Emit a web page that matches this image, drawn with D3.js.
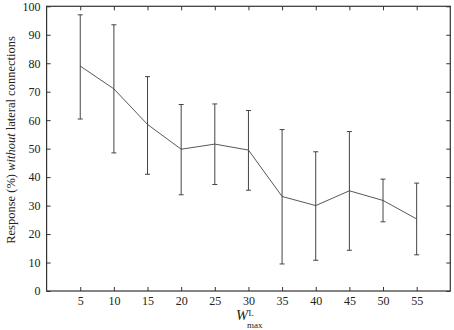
<!DOCTYPE html>
<html>
<head>
<meta charset="utf-8">
<script src="https://cdn.jsdelivr.net/npm/d3@7"></script>
<style>
  body { margin: 0; background: #fff; }
  svg text { font-family: "Liberation Serif", "DejaVu Serif", serif; fill: #222; }
</style>
</head>
<body>
<svg id="chart" width="454" height="330"></svg>
<script>
// values
let wmax = [5, 10, 15, 20, 25, 30, 35, 40, 45, 50, 55]
let response = [79, 71, 58.5, 49.8, 51.6, 49.5, 33.2, 30, 35.2, 31.8, 25.3]
let upper = [97, 93.5, 75.3, 65.5, 65.7, 63.4, 56.7, 48.9, 56, 39.3, 37.9]
let lower = [60.4, 48.5, 41, 33.8, 37.4, 35.4, 9.5, 10.8, 14.3, 24.3, 12.7]
let xTicks = [5, 10, 15, 20, 25, 30, 35, 40, 45, 50, 55]
let yTicks = [0, 10, 20, 30, 40, 50, 60, 70, 80, 90, 100]

let mLeft = 46.6, mRight = 450.3, mTop = 6.3, mBottom = 291

let svg = d3.select("#chart")

let x = d3.scaleLinear().domain([0, 60]).range([mLeft, mRight])
let y = d3.scaleLinear().domain([0, 100]).range([mBottom, mTop])

let stroke = "#333"

// frame
svg.append("rect")
  .attr("x", mLeft).attr("y", mTop)
  .attr("width", mRight - mLeft).attr("height", mBottom - mTop)
  .attr("fill", "none").attr("stroke", stroke).attr("stroke-width", 1.2)

// axes with inward ticks
let ax = svg.append("g").attr("transform", "translate(0," + mBottom + ")")
  .call(d3.axisBottom(x).tickValues(xTicks).tickSizeInner(-4).tickSizeOuter(0).tickPadding(5))
let ay = svg.append("g").attr("transform", "translate(" + mLeft + ",0)")
  .call(d3.axisLeft(y).tickValues(yTicks).tickSizeInner(-4).tickSizeOuter(0).tickPadding(6))
let at = svg.append("g").attr("transform", "translate(0," + mTop + ")")
  .call(d3.axisTop(x).tickValues(xTicks).tickSizeInner(-4).tickSizeOuter(0).tickFormat(""))
let ar = svg.append("g").attr("transform", "translate(" + mRight + ",0)")
  .call(d3.axisRight(y).tickValues(yTicks).tickSizeInner(-4).tickSizeOuter(0).tickFormat(""))

;[ax, ay, at, ar].forEach(function(g) {
  g.select(".domain").remove()
  g.attr("font-family", null)
  g.selectAll("line").attr("stroke", stroke)
  g.selectAll("text").attr("font-size", 12).attr("fill", "#222")
})

// error bars
let bars = svg.append("g")
wmax.forEach(function(d, i) {
  bars.append("line")
    .attr("x1", x(d)).attr("x2", x(d))
    .attr("y1", y(lower[i])).attr("y2", y(upper[i]))
    .attr("stroke", "#444").attr("stroke-width", 1)
  ;[lower[i], upper[i]].forEach(function(v) {
    bars.append("line")
      .attr("x1", x(d) - 2.5).attr("x2", x(d) + 2.5)
      .attr("y1", y(v)).attr("y2", y(v))
      .attr("stroke", "#444").attr("stroke-width", 1)
  })
})

// mean line
let line = d3.line()
  .x(function(d, i) { return x(wmax[i]) })
  .y(function(d) { return y(d) })

svg.append("path")
  .datum(response)
  .attr("d", line)
  .attr("fill", "none")
  .attr("stroke", "#444")
  .attr("stroke-width", 0.9)

// labels
let ylab = svg.append("text")
  .attr("transform", "translate(15," + 140 + ") rotate(-90)")
  .attr("text-anchor", "middle")
  .attr("font-size", 12.5)
ylab.append("tspan").text("Response (%) ")
ylab.append("tspan").attr("font-style", "italic").text("without")
ylab.append("tspan").text(" lateral connections")

svg.append("text")
  .attr("x", 248).attr("y", 320)
  .attr("text-anchor", "end")
  .attr("font-size", 14.5).attr("font-style", "italic")
  .text("W")
svg.append("text")
  .attr("x", 248.5).attr("y", 315.5)
  .attr("font-size", 8.5)
  .text("L")
svg.append("text")
  .attr("x", 247).attr("y", 327.5)
  .attr("font-size", 9)
  .text("max")
</script>
</body>
</html>
